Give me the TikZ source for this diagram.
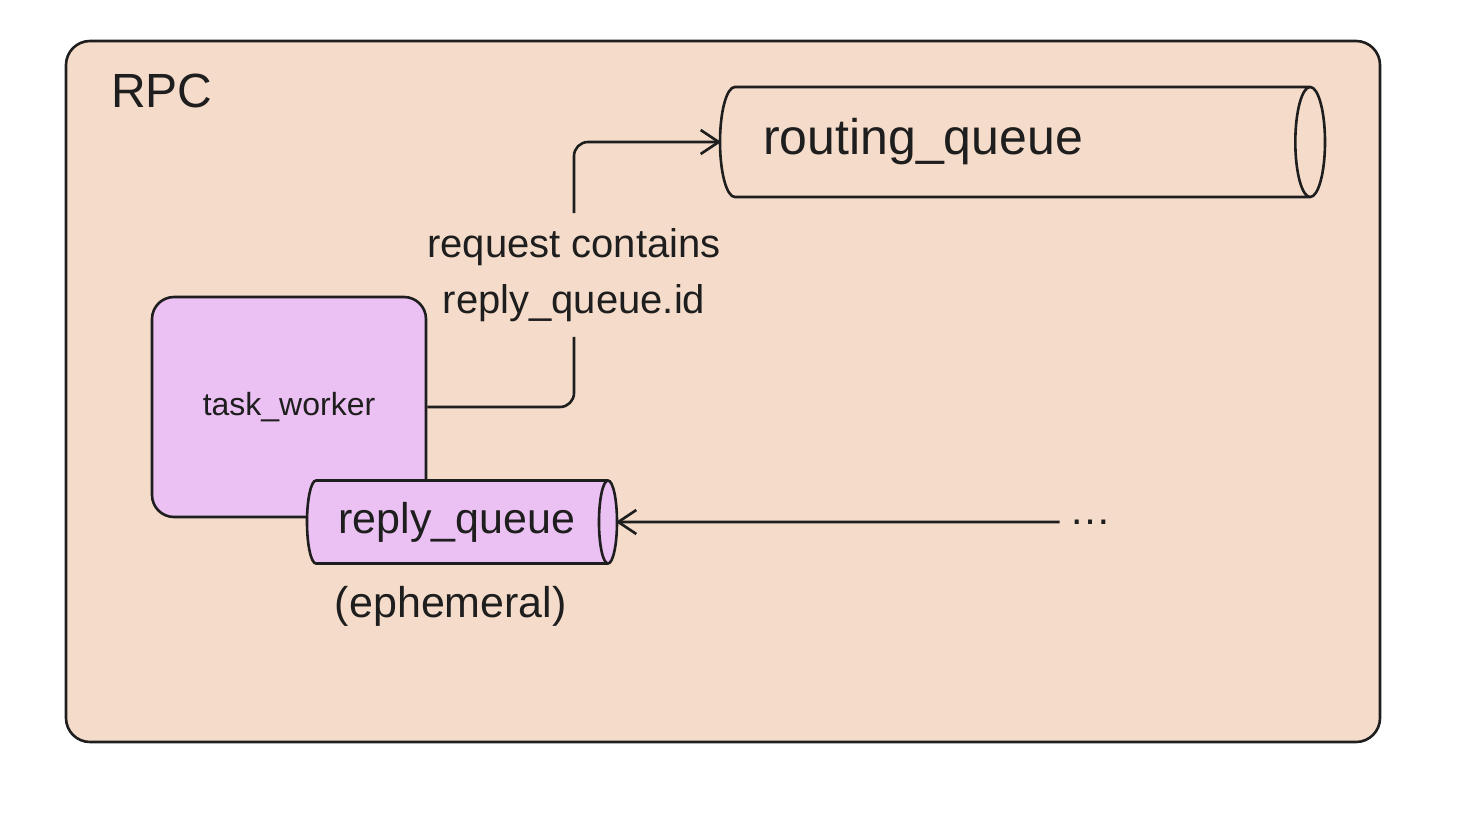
\documentclass[tikz,border=0pt]{standalone}
\usepackage{fontspec}
\setmainfont{Liberation Sans}
\usetikzlibrary{positioning,shapes.geometric,arrows.meta}

\definecolor{Frame}{HTML}{F5DCCA}
\definecolor{Worker}{HTML}{EBC0F2}
\definecolor{Ink}{HTML}{1E1E1E}

\begin{document}
\begin{tikzpicture}[x=0.5pt, y=-0.5pt, line width=1.3pt, draw=Ink, text=Ink,
  queue/.style={cylinder, draw=Ink, cylinder uses custom fill, cylinder body fill=Frame,
    cylinder end fill=Frame, aspect=0.45, inner sep=0pt, outer sep=0pt},
  sendarrow/.style={-{Straight Barb[length=9pt, width=12pt, line join=round]}}]

 %%%%%%%%%% Cadre RPC %%%%%%%%%%
 \useasboundingbox (0,0) rectangle (1470,818);
 \draw [fill=Frame, rounded corners=12pt] (66,41) rectangle (1380,742);
 \node [anchor=base west, inner sep=0pt, font=\fontsize{24}{28}\selectfont] (rpc) at (110,108) {RPC};

 %%%%%%%%%% Worker et sa file %%%%%%%%%%
 \node [draw, fill=Worker, rounded corners=11pt, minimum width=137pt, minimum height=110pt,
   font=\fontsize{16}{19}\selectfont] (worker) at (289,407) {task\_worker};
 \node [queue, cylinder body fill=Worker, cylinder end fill=Worker, minimum height=155pt,
   minimum width=41.5pt, anchor=west, font=\fontsize{21.5}{26}\selectfont] (reply) at (307,522) {reply\_queue};
 \node [below=11pt of reply, xshift=-3pt, inner sep=0pt, font=\fontsize{21.5}{26}\selectfont] (ephemeral) {(ephemeral)};

 %%%%%%%%%% File de routage %%%%%%%%%%
 \node [queue, minimum height=302.5pt, minimum width=55pt, anchor=west] (routing) at (720,142) {\rule{0pt}{33pt}};
 \node [right=21pt of routing.west, inner sep=0pt, font=\fontsize{25}{30}\selectfont] (routingtext) {routing\_queue};

 %%%%%%%%%% Requete %%%%%%%%%%
 \node [align=center, inner xsep=0pt, inner ysep=7pt, font=\fontsize{20}{28}\selectfont] (contains) at (574,275)
   {request contains\\reply\_queue.id};
 \draw [rounded corners=7pt] (worker.east) -| (contains.south);
 \draw [sendarrow, rounded corners=7pt] (contains.north) |- (routing.west);

 %%%%%%%%%% Reponse %%%%%%%%%%
 \node [inner sep=4pt, font=\fontsize{21}{25}\selectfont] (more) at (1090,522) {…};
 \draw [sendarrow] (more.west) -- (reply.east);

\end{tikzpicture}
\end{document}
